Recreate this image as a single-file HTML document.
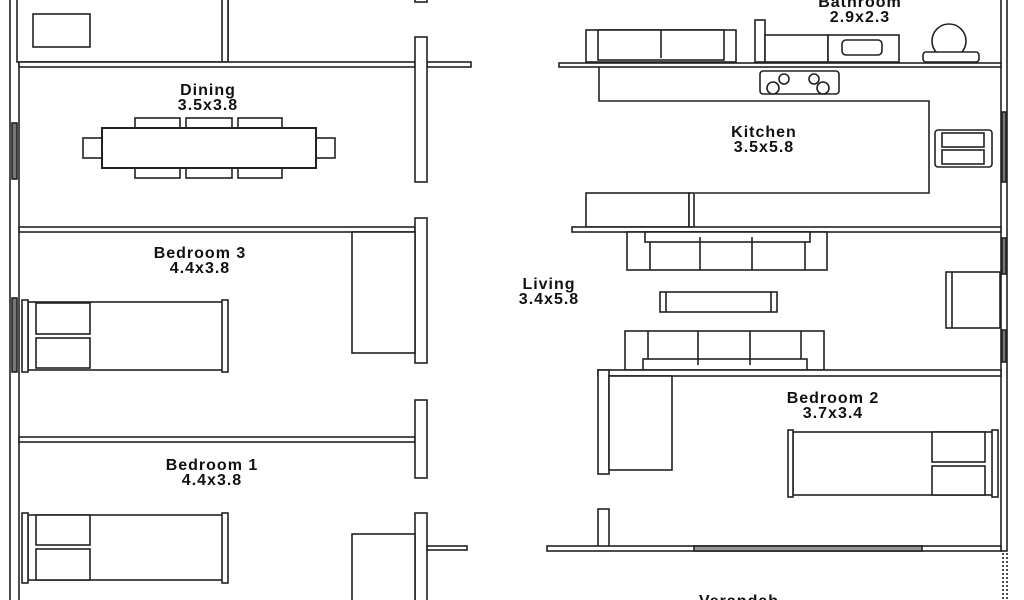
<!DOCTYPE html>
<html><head><style>html,body{margin:0;padding:0;background:#fff;overflow:hidden}svg{display:block}text{font-family:"Liberation Sans",sans-serif;font-weight:bold;font-size:16px;fill:#111;text-anchor:middle;letter-spacing:1px}</style></head><body>
<svg width="1024" height="600" viewBox="0 0 1024 600" xmlns="http://www.w3.org/2000/svg" fill="#fff" stroke="#222" stroke-width="1.6">
<!-- left outer wall -->
<rect x="10" y="-5" width="9" height="610"/>
<rect x="12" y="123" width="5" height="56" fill="#777"/>
<rect x="12" y="298" width="5" height="74" fill="#777"/>
<!-- top-left closet -->
<rect x="17" y="-5" width="211" height="67"/>
<rect x="222" y="-5" width="6" height="67"/>
<rect x="33" y="14" width="57" height="33"/>
<!-- horizontal walls left -->
<rect x="19" y="62" width="396" height="5"/>
<rect x="427" y="62" width="44" height="5"/>
<rect x="19" y="227" width="396" height="5"/>
<rect x="19" y="437" width="396" height="5"/>
<!-- vertical wall segments -->
<rect x="415" y="37" width="12" height="145"/>
<rect x="415" y="-5" width="12" height="7"/>
<rect x="415" y="218" width="12" height="145"/>
<rect x="415" y="400" width="12" height="78"/>
<rect x="415" y="513" width="12" height="92"/>
<rect x="427" y="546" width="40" height="4"/>
<!-- dining table -->
<rect x="135" y="118" width="45" height="10"/><rect x="186" y="118" width="46" height="10"/><rect x="238" y="118" width="44" height="10"/>
<rect x="135" y="168" width="45" height="10"/><rect x="186" y="168" width="46" height="10"/><rect x="238" y="168" width="44" height="10"/>
<rect x="83" y="138" width="19" height="20"/><rect x="316" y="138" width="19" height="20"/>
<rect x="102" y="128" width="214" height="40" stroke-width="2"/>
<!-- bedroom 3 -->
<rect x="352" y="232" width="63" height="121"/>
<rect x="28" y="302" width="196" height="68"/>
<rect x="22" y="300" width="6" height="72"/><rect x="222" y="300" width="6" height="72"/>
<rect x="36" y="303" width="54" height="31"/><rect x="36" y="338" width="54" height="30"/>
<!-- bedroom 1 -->
<rect x="28" y="515" width="196" height="65"/>
<rect x="22" y="513" width="6" height="70"/><rect x="222" y="513" width="6" height="70"/>
<rect x="36" y="515" width="54" height="30"/><rect x="36" y="549" width="54" height="31"/>
<rect x="352" y="534" width="63" height="70"/>
<!-- right outer wall -->
<rect x="1001" y="-5" width="6" height="556"/>
<rect x="1002" y="112" width="4" height="70" fill="#777"/>
<rect x="1002" y="238" width="4" height="36" fill="#777"/>
<rect x="1002" y="330" width="4" height="32" fill="#777"/>
<line x1="1003" y1="553" x2="1003" y2="600" stroke-dasharray="2,2"/><line x1="1007" y1="553" x2="1007" y2="600" stroke-dasharray="2,2"/>
<!-- bathroom -->
<rect x="586" y="30" width="150" height="32"/>
<rect x="598" y="30" width="126" height="30"/><line x1="661" y1="30" x2="661" y2="58"/>
<rect x="755" y="20" width="10" height="42"/>
<rect x="765" y="35" width="63" height="27"/>
<rect x="828" y="35" width="71" height="27"/><rect x="842" y="40" width="40" height="15" rx="4"/>
<circle cx="949" cy="41" r="17"/><rect x="923" y="52" width="56" height="10" rx="3"/>
<rect x="559" y="63" width="442" height="4"/>
<!-- kitchen -->
<polyline points="599,67 599,101 929,101 929,193 695,193" fill="none"/>
<rect x="760" y="71" width="79" height="23" rx="3"/>
<circle cx="784" cy="79" r="5"/><circle cx="814" cy="79" r="5"/><circle cx="773" cy="88" r="6"/><circle cx="823" cy="88" r="6"/>
<rect x="935" y="130" width="57" height="37" rx="3"/><rect x="942" y="133" width="42" height="14"/><rect x="942" y="150" width="42" height="14"/>
<rect x="586" y="193" width="103" height="34"/><rect x="689" y="193" width="5" height="34"/>
<rect x="572" y="227" width="429" height="5"/>
<!-- living -->
<rect x="627" y="232" width="200" height="38"/>
<rect x="645" y="232" width="165" height="10"/>
<line x1="650" y1="242" x2="650" y2="270"/><line x1="700" y1="237" x2="700" y2="270"/><line x1="752" y1="237" x2="752" y2="270"/><line x1="805" y1="242" x2="805" y2="270"/>
<rect x="660" y="292" width="117" height="20"/><line x1="666" y1="292" x2="666" y2="312"/><line x1="771" y1="292" x2="771" y2="312"/>
<rect x="946" y="272" width="54" height="56"/><line x1="952" y1="272" x2="952" y2="328"/>
<rect x="625" y="331" width="199" height="39"/>
<rect x="643" y="359" width="164" height="11"/>
<line x1="648" y1="331" x2="648" y2="359"/><line x1="698" y1="331" x2="698" y2="365"/><line x1="750" y1="331" x2="750" y2="365"/><line x1="801" y1="331" x2="801" y2="359"/>
<!-- bedroom 2 -->
<rect x="598" y="370" width="403" height="6"/>
<rect x="598" y="370" width="11" height="104"/>
<rect x="609" y="376" width="63" height="94"/>
<rect x="793" y="432" width="200" height="63"/>
<rect x="788" y="430" width="5" height="67"/><rect x="992" y="430" width="6" height="67"/>
<rect x="932" y="432" width="53" height="30"/><rect x="932" y="466" width="53" height="29"/>
<rect x="598" y="509" width="11" height="40"/>
<rect x="547" y="546" width="454" height="5"/>
<rect x="694" y="546" width="228" height="5" fill="#999"/>
<!-- labels -->
<g stroke="none">
<text x="860" y="7">Bathroom</text><text x="860" y="22">2.9x2.3</text>
<text x="208" y="95">Dining</text><text x="208" y="110">3.5x3.8</text>
<text x="764" y="137">Kitchen</text><text x="764" y="152">3.5x5.8</text>
<text x="200" y="258">Bedroom 3</text><text x="200" y="273">4.4x3.8</text>
<text x="549" y="289">Living</text><text x="549" y="304">3.4x5.8</text>
<text x="833" y="403">Bedroom 2</text><text x="833" y="418">3.7x3.4</text>
<text x="212" y="470">Bedroom 1</text><text x="212" y="485">4.4x3.8</text>
<text x="739" y="606">Verandah</text>
</g>
</svg>
</body></html>
